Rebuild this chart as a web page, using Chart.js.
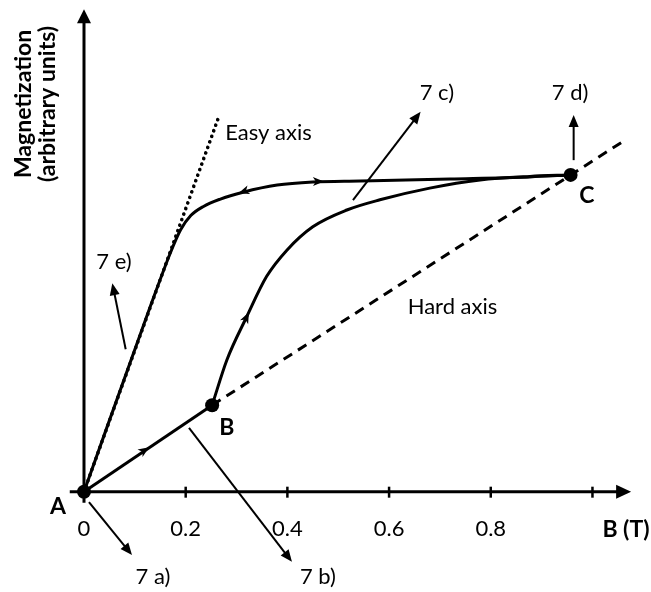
<!DOCTYPE html>
<html>
<head>
<meta charset="utf-8">
<script src="https://cdn.jsdelivr.net/npm/chart.js@4/dist/chart.umd.min.js"></script>
<style>
  html, body { margin: 0; padding: 0; background: #fff; }
  #wrap { width: 651px; height: 592px; }
</style>
</head>
<body>
<div id="wrap"><canvas id="c" width="651" height="592"></canvas></div>
<script>
// ---- Data: field B in tesla (x), magnetization in arbitrary units (y) ----
const easyAxisX = [0, 0.266];
const easyAxisY = [0, 0.740];

const hardSolidX = [0, 0.252];
const hardSolidY = [0, 0.170];
const hardDashX = [0.252, 1.065];
const hardDashY = [0.170, 0.692];

// easy-direction magnetization branch A -> C (and back)
const easyCurveX = [0, 0.130, 0.170, 0.190, 0.210, 0.235, 0.267, 0.313, 0.380, 0.450, 0.543, 0.720, 0.877, 0.957];
const easyCurveY = [0, 0.363, 0.470, 0.515, 0.543, 0.561, 0.575, 0.589, 0.603, 0.609, 0.611, 0.615, 0.619, 0.623];

// hard-direction branch B -> C
const hardCurveX = [0.252, 0.281, 0.320, 0.359, 0.399, 0.450, 0.517, 0.582, 0.680, 0.779, 0.877, 0.957];
const hardCurveY = [0.170, 0.259, 0.344, 0.423, 0.475, 0.521, 0.554, 0.574, 0.597, 0.613, 0.620, 0.623];

// marked states
const stateNames = ['A', 'B', 'C'];
const stateX = [0, 0.252, 0.957];
const stateY = [0, 0.170, 0.623];
const stateLabelX = [-0.051, 0.281, 0.989];
const stateLabelY = [-0.030, 0.127, 0.583];

// x axis ticks
const tickValues = [0.2, 0.4, 0.6, 0.8, 1.0];
const tickLabelValues = [0, 0.2, 0.4, 0.6, 0.8];
const tickLabels = ['0', '0.2', '0.4', '0.6', '0.8'];

// direction-of-travel markers on the curves: position and a point it heads toward
const flowAtX = [0.120, 0.320, 0.313, 0.462];
const flowAtY = [0.082, 0.344, 0.590, 0.610];
const flowToX = [0.252, 0.340, 0.270, 0.520];
const flowToY = [0.170, 0.385, 0.576, 0.611];

// figure-panel pointers
const panelNames = ['7 a)', '7 b)', '7 c)', '7 d)', '7 e)'];
const panelFromX = [0.0098, 0.2065, 0.529, 0.963, 0.082];
const panelFromY = [-0.0203, 0.1253, 0.5736, 0.652, 0.280];
const panelToX = [0.0944, 0.409, 0.662, 0.963, 0.0557];
const panelToY = [-0.1246, -0.138, 0.747, 0.741, 0.410];
const panelLabelX = [0.1357, 0.460, 0.694, 0.956, 0.059];
const panelLabelY = [-0.1682, -0.1682, 0.784, 0.784, 0.452];

// text annotations
const axisNotes = ['Easy axis', 'Hard axis'];
const axisNoteX = [0.3628, 0.7247];
const axisNoteY = [0.705, 0.3632];
const xTitle = 'B (T)';
const xTitleAt = [1.0659, -0.0754];
const yTitleLines = ['Magnetization', '(arbitrary units)'];
const yTitleLineX = [-0.118, -0.0708];
const yTitleY = 0.7625;

// axis extents
const xAxisFrom = -0.028, xAxisTo = 1.076;
const yAxisFrom = -0.022, yAxisTo = 0.949;
const tickLabelY = -0.0734;

const zip = (xs, ys) => xs.map((x, i) => ({ x: x, y: ys[i] }));

const FONT = 'Lato, "Open Sans", sans-serif';
const INK = '#000';

function arrowHead(ctx, x0, y0, x1, y1, len, half) {
  const a = Math.atan2(y1 - y0, x1 - x0);
  ctx.save();
  ctx.translate(x1, y1);
  ctx.rotate(a);
  ctx.beginPath();
  ctx.moveTo(0, 0);
  ctx.lineTo(-len, -half);
  ctx.lineTo(-len, half);
  ctx.closePath();
  ctx.fill();
  ctx.restore();
}

const diagramPlugin = {
  id: 'diagram',
  beforeDatasetsDraw(chart) {
    const ctx = chart.ctx;
    const xs = chart.scales.x, ys = chart.scales.y;
    const X = v => xs.getPixelForValue(v), Y = v => ys.getPixelForValue(v);
    ctx.save();
    ctx.strokeStyle = INK;
    ctx.fillStyle = INK;
    ctx.lineWidth = 3;
    ctx.lineCap = 'butt';
    // x axis
    const y0 = Y(0);
    const xEnd = X(xAxisTo);
    ctx.beginPath();
    ctx.moveTo(X(xAxisFrom), y0);
    ctx.lineTo(xEnd - 10, y0);
    ctx.stroke();
    ctx.beginPath();
    ctx.moveTo(xEnd, y0);
    ctx.lineTo(xEnd - 15, y0 - 7);
    ctx.lineTo(xEnd - 15, y0 + 7);
    ctx.closePath();
    ctx.fill();
    // y axis
    const x0 = X(0);
    const yEnd = Y(yAxisTo);
    ctx.beginPath();
    ctx.moveTo(x0, Y(yAxisFrom));
    ctx.lineTo(x0, yEnd + 10);
    ctx.stroke();
    ctx.beginPath();
    ctx.moveTo(x0, yEnd);
    ctx.lineTo(x0 - 7, yEnd + 14);
    ctx.lineTo(x0 + 7, yEnd + 14);
    ctx.closePath();
    ctx.fill();
    // tick marks
    ctx.lineWidth = 2.5;
    tickValues.forEach(v => {
      ctx.beginPath();
      ctx.moveTo(X(v), y0 - 5);
      ctx.lineTo(X(v), y0 + 6);
      ctx.stroke();
    });
    ctx.restore();
  },
  afterDatasetsDraw(chart) {
    const ctx = chart.ctx;
    const xs = chart.scales.x, ys = chart.scales.y;
    const X = v => xs.getPixelForValue(v), Y = v => ys.getPixelForValue(v);
    ctx.save();
    ctx.fillStyle = INK;
    ctx.strokeStyle = INK;

    // flow markers along the curves
    for (let i = 0; i < flowAtX.length; i++) {
      const ax = X(flowAtX[i]), ay = Y(flowAtY[i]);
      const a = Math.atan2(Y(flowToY[i]) - ay, X(flowToX[i]) - ax);
      ctx.save();
      ctx.translate(ax, ay);
      ctx.rotate(a);
      ctx.beginPath();
      ctx.moveTo(5, 0);
      ctx.lineTo(-6, -4.5);
      ctx.lineTo(-3, 0);
      ctx.lineTo(-6, 4.5);
      ctx.closePath();
      ctx.fill();
      ctx.restore();
    }

    // panel pointers
    ctx.lineWidth = 2;
    for (let i = 0; i < panelNames.length; i++) {
      const fx = X(panelFromX[i]), fy = Y(panelFromY[i]);
      const tx = X(panelToX[i]), ty = Y(panelToY[i]);
      const a = Math.atan2(ty - fy, tx - fx);
      ctx.beginPath();
      ctx.moveTo(fx, fy);
      ctx.lineTo(tx - 8 * Math.cos(a), ty - 8 * Math.sin(a));
      ctx.stroke();
      arrowHead(ctx, fx, fy, tx, ty, 12, 5);
    }

    ctx.textAlign = 'center';
    ctx.textBaseline = 'middle';
    ctx.font = '22px ' + FONT;
    panelNames.forEach((t, i) => ctx.fillText(t, X(panelLabelX[i]), Y(panelLabelY[i])));
    axisNotes.forEach((t, i) => ctx.fillText(t, X(axisNoteX[i]), Y(axisNoteY[i])));
    tickLabels.forEach((t, i) => ctx.fillText(t, X(tickLabelValues[i]), Y(tickLabelY)));

    ctx.font = 'bold 23px ' + FONT;
    stateNames.forEach((t, i) => ctx.fillText(t, X(stateLabelX[i]), Y(stateLabelY[i])));
    ctx.fillText(xTitle, X(xTitleAt[0]), Y(xTitleAt[1]));

    yTitleLines.forEach((t, i) => {
      ctx.save();
      ctx.translate(X(yTitleLineX[i]), Y(yTitleY));
      ctx.rotate(-Math.PI / 2);
      ctx.fillText(t, 0, 0);
      ctx.restore();
    });
    ctx.restore();
  }
};

const lineBase = { showLine: true, pointRadius: 0, borderColor: INK, backgroundColor: INK, fill: false };

new Chart(document.getElementById('c'), {
  type: 'scatter',
  data: {
    datasets: [
      Object.assign({}, lineBase, {
        label: 'Easy axis', data: zip(easyAxisX, easyAxisY),
        borderWidth: 3.6, borderDash: [0.1, 5.8], borderCapStyle: 'round'
      }),
      Object.assign({}, lineBase, {
        label: 'Hard axis', data: zip(hardSolidX, hardSolidY), borderWidth: 3
      }),
      Object.assign({}, lineBase, {
        label: 'Hard axis (extension)', data: zip(hardDashX, hardDashY),
        borderWidth: 3, borderDash: [10, 7]
      }),
      Object.assign({}, lineBase, {
        label: 'Easy branch', data: zip(easyCurveX, easyCurveY),
        borderWidth: 3, cubicInterpolationMode: 'monotone'
      }),
      Object.assign({}, lineBase, {
        label: 'Hard branch', data: zip(hardCurveX, hardCurveY),
        borderWidth: 3, cubicInterpolationMode: 'monotone'
      }),
      {
        label: 'States', data: zip(stateX, stateY), showLine: false,
        pointRadius: 7, pointBackgroundColor: INK, pointBorderColor: INK, pointBorderWidth: 0
      }
    ]
  },
  options: {
    responsive: false,
    animation: false,
    events: [],
    layout: { padding: { left: 68.745, right: 17.86, top: 8.625, bottom: 87.6 } },
    scales: {
      x: { type: 'linear', min: -0.03, max: 1.08, display: false },
      y: { type: 'linear', min: -0.025, max: 0.95, display: false }
    },
    plugins: { legend: { display: false }, tooltip: { enabled: false } }
  },
  plugins: [diagramPlugin]
});
</script>
</body>
</html>
